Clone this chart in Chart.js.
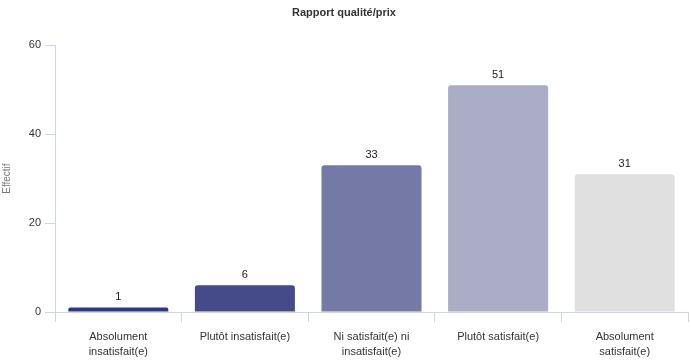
<!DOCTYPE html>
<html>
<head>
<meta charset="utf-8">
<script src="https://cdn.jsdelivr.net/npm/chart.js@4"></script>
<style>
  html, body { margin: 0; padding: 0; background: #fff; }
  #wrap { width: 691px; height: 363px; position: relative; }
</style>
</head>
<body>
<div id="wrap"><canvas id="chart"></canvas></div>
<script>
// categories and counts
const categories = [
  ["Absolument", "insatisfait(e)"],
  "Plutôt insatisfait(e)",
  ["Ni satisfait(e) ni", "insatisfait(e)"],
  "Plutôt satisfait(e)",
  ["Absolument", "satisfait(e)"]
];
const counts = [1, 6, 33, 51, 31];
const barColors = ["#2e3782", "#444a8a", "#7579a6", "#abacc6", "#e0e0e0"];
const yTicks = [0, 20, 40, 60];

const FONT = "'Liberation Sans', Arial, sans-serif";
const axisColor = "#ccd6eb";

// writes the count just above each bar
const valueLabels = {
  id: "valueLabels",
  afterDatasetsDraw(chart) {
    const ctx = chart.ctx;
    const meta = chart.getDatasetMeta(0);
    ctx.save();
    ctx.font = "11px " + FONT;
    ctx.fillStyle = "#222";
    ctx.textAlign = "center";
    ctx.textBaseline = "bottom";
    meta.data.forEach((bar, i) => {
      ctx.fillText(String(counts[i]), bar.x, bar.y - 5);
    });
    ctx.restore();
  }
};

new Chart(document.getElementById("chart"), {
  type: "bar",
  data: {
    labels: categories,
    datasets: [{
      data: counts,
      backgroundColor: barColors,
      borderRadius: 3,
      borderSkipped: "bottom",
      categoryPercentage: 0.79,
      barPercentage: 1
    }]
  },
  options: {
    responsive: true,
    maintainAspectRatio: false,
    animation: false,
    layout: { padding: { left: 0, right: 3, top: 0, bottom: 0 } },
    plugins: {
      legend: { display: false },
      tooltip: { enabled: false },
      title: {
        display: true,
        text: "Rapport qualité/prix",
        color: "#333",
        font: { family: FONT, size: 11, weight: "bold" },
        padding: { top: 6, bottom: 26 }
      }
    },
    scales: {
      x: {
        offset: true,
        grid: {
          offset: true,
          drawOnChartArea: false,
          color: axisColor,
          tickLength: 10
        },
        border: { color: axisColor },
        ticks: {
          color: "#333",
          padding: 8,
          maxRotation: 0,
          autoSkip: false,
          font: { family: FONT, size: 11, lineHeight: 1.35 }
        },
        afterFit(scale) { scale.height = 51; }
      },
      y: {
        min: 0,
        max: 60,
        afterBuildTicks(scale) {
          scale.ticks = yTicks.map(v => ({ value: v }));
        },
        grid: {
          drawOnChartArea: false,
          color: axisColor,
          tickLength: 10
        },
        border: { color: axisColor },
        ticks: {
          color: "#333",
          padding: 4,
          font: { family: FONT, size: 11 }
        },
        title: {
          display: true,
          text: "Effectif",
          color: "#777",
          font: { family: FONT, size: 10 },
          padding: { top: 1, bottom: 0 }
        },
        afterFit(scale) { scale.width = 55; }
      }
    }
  },
  plugins: [valueLabels]
});
</script>
</body>
</html>
